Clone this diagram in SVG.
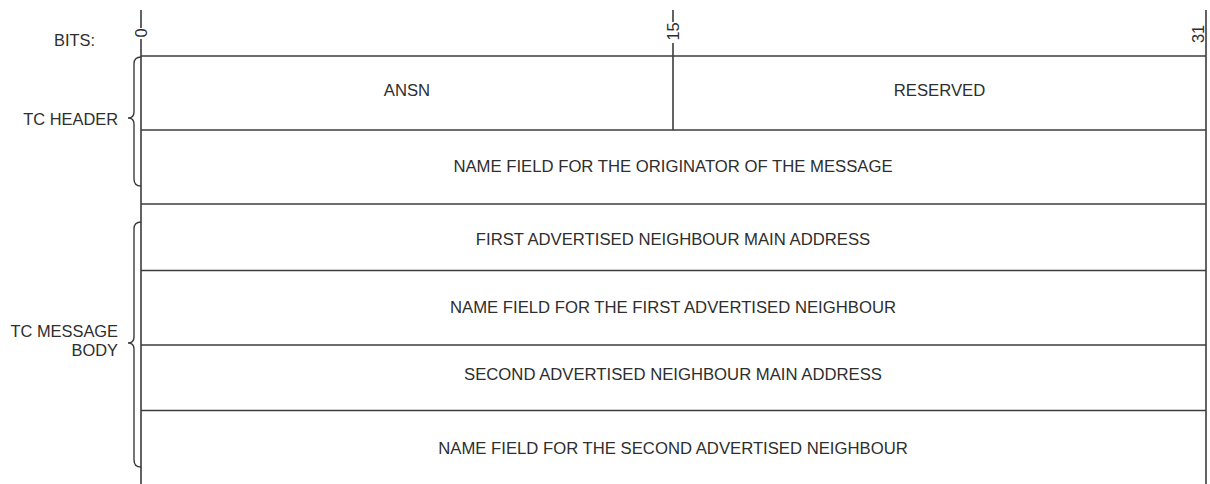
<svg xmlns="http://www.w3.org/2000/svg" width="1210" height="484" viewBox="0 0 1210 484">
<style>
.ln{stroke:#3c3c3c;stroke-width:1.6;fill:none}
.br{stroke:#3c3c3c;stroke-width:1.4;fill:none}
.t{font-family:"Liberation Sans",Arial,sans-serif;font-size:16.7px;fill:#2e2e2e}
.l{font-size:16.4px}
.c{text-anchor:middle}
.r{text-anchor:end}
</style>
<rect width="1210" height="484" fill="#fff"/>
<g id="connectors">
<line class="ln" x1="141" y1="10" x2="141" y2="28"/>
<line class="ln" x1="141" y1="39" x2="141" y2="484"/>
<line class="ln" x1="673" y1="10" x2="673" y2="22"/>
<line class="ln" x1="673" y1="43" x2="673" y2="130"/>
<line class="ln" x1="1206" y1="10" x2="1206" y2="484"/>
<line class="ln" x1="141" y1="56" x2="1206" y2="56"/>
<line class="ln" x1="141" y1="130" x2="1206" y2="130"/>
<line class="ln" x1="141" y1="204" x2="1206" y2="204"/>
<line class="ln" x1="141" y1="270.5" x2="1206" y2="270.5"/>
<line class="ln" x1="141" y1="345" x2="1206" y2="345"/>
<line class="ln" x1="141" y1="410.5" x2="1206" y2="410.5"/>
</g>
<g id="bit-labels">
<text class="t l r" x="95" y="46">BITS:</text>
<text class="t l c" transform="translate(147,33) rotate(-90)">0</text>
<text class="t l c" transform="translate(679,31.5) rotate(-90)">15</text>
<text class="t l c" transform="translate(1204,34) rotate(-90)">31</text>
</g>
<g id="tc-header">
<path class="br" d="M141,57 Q134,57 134,64 L134,112 Q134,118 128,118 Q134,118 134,124 L134,179 Q134,186 141,186"/>
<text class="t l r" x="118" y="125">TC HEADER</text>
</g>
<g id="tc-body">
<path class="br" d="M141,222 Q134,222 134,229 L134,337 Q134,343 128,343 Q134,343 134,349 L134,460 Q134,467 141,467"/>
<text class="t l r" x="118" y="337">TC MESSAGE</text>
<text class="t l r" x="118" y="356">BODY</text>
</g>
<g id="ansn"><text class="t c" x="407" y="96">ANSN</text></g>
<g id="reserved"><text class="t c" x="939.5" y="96">RESERVED</text></g>
<g id="originator"><text class="t c" x="673" y="172">NAME FIELD FOR THE ORIGINATOR OF THE MESSAGE</text></g>
<g id="first-addr"><text class="t c" x="673" y="245">FIRST ADVERTISED NEIGHBOUR MAIN ADDRESS</text></g>
<g id="first-name"><text class="t c" x="673" y="313">NAME FIELD FOR THE FIRST ADVERTISED NEIGHBOUR</text></g>
<g id="second-addr"><text class="t c" x="673" y="380">SECOND ADVERTISED NEIGHBOUR MAIN ADDRESS</text></g>
<g id="second-name"><text class="t c" x="673" y="454">NAME FIELD FOR THE SECOND ADVERTISED NEIGHBOUR</text></g>
</svg>
